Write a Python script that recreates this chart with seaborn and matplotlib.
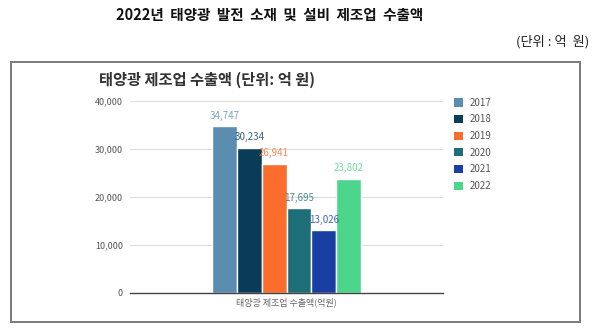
import matplotlib
matplotlib.use("Agg")
import matplotlib.pyplot as plt
import seaborn as sns
import pandas as pd
from matplotlib.patches import Rectangle, Patch

# Export value of the solar manufacturing industry (unit: 100 million KRW)
years = ["2017", "2018", "2019", "2020", "2021", "2022"]
values = [34747, 30234, 26941, 17695, 13026, 23802]
category = "태양광 제조업 수출액(억원)"
colors = ["#5b8db0", "#0b3c57", "#fb6d2d", "#1d6e79", "#1a3fa3", "#4bd68b"]
yticks = [0, 10000, 20000, 30000, 40000]

sns.set_theme(style="white")
plt.rcParams["font.family"] = ["Noto Sans CJK KR", "DejaVu Sans"]

W, H = 600, 328
fig = plt.figure(figsize=(W / 100, H / 100), dpi=100)
fig.patch.set_facecolor("white")

def fx(px):
    return px / W

def fy(py):
    return 1 - py / H

# framed panel around the chart
fig.add_artist(Rectangle((fx(11), fy(322)), fx(580) - fx(11), fy(62) - fy(322),
                         transform=fig.transFigure, fill=False,
                         edgecolor="#7a7a7a", linewidth=1.4))

ax = fig.add_axes([fx(130), fy(293), fx(443) - fx(130), fy(101) - fy(293)])

df = pd.DataFrame({"cat": [category] * len(years), "year": years, "value": values})
sns.barplot(data=df, x="cat", y="value", hue="year", hue_order=years,
            palette=colors, saturation=1, width=0.475, edgecolor="white",
            linewidth=1.0, ax=ax, legend=False)

ax.set_xlim(-0.5, 0.5)
ax.set_ylim(0, 40000)
ax.set_yticks(yticks)
ax.set_yticklabels([f"{v:,}" for v in yticks], fontsize=6.5, color="#555555")
ax.tick_params(axis="y", length=0, pad=5)
ax.tick_params(axis="x", length=0, pad=3)
ax.set_xticks([0])
ax.set_xticklabels([category], fontsize=6.5, color="#666666")
ax.set_xlabel("")
ax.set_ylabel("")
ax.grid(axis="y", color="#dddddd", linewidth=0.8)
ax.set_axisbelow(True)
for side in ["top", "right", "left"]:
    ax.spines[side].set_visible(False)
ax.spines["bottom"].set_color("#444444")
ax.spines["bottom"].set_linewidth(1.0)

for cont, col in zip(ax.containers, colors):
    ax.bar_label(cont, labels=[f"{v:,.0f}" for v in cont.datavalues],
                 fontsize=7, color=col, padding=4, alpha=0.8)

handles = [Patch(facecolor=c, edgecolor="none") for c in colors]
fig.legend(handles, years, loc="upper left", bbox_to_anchor=(fx(450), fy(94)),
           bbox_transform=fig.transFigure, frameon=False, fontsize=7,
           handlelength=0.9, handleheight=0.9, handletextpad=0.7,
           labelspacing=0.68, borderaxespad=0, labelcolor="#555555")

fig.text(fx(99), fy(80), "태양광 제조업 수출액 (단위: 억 원)", fontsize=11,
         fontweight="bold", color="#333333", ha="left", va="center")
fig.text(fx(270), fy(15), "2022년  태양광  발전  소재  및  설비  제조업  수출액",
         fontsize=10.5, fontweight="bold", color="#111111", ha="center", va="center")
fig.text(fx(589), fy(42), "(단위 : 억  원)", fontsize=9.5, color="#222222",
         ha="right", va="center")

fig.savefig("out.png", dpi=100, facecolor="white")
